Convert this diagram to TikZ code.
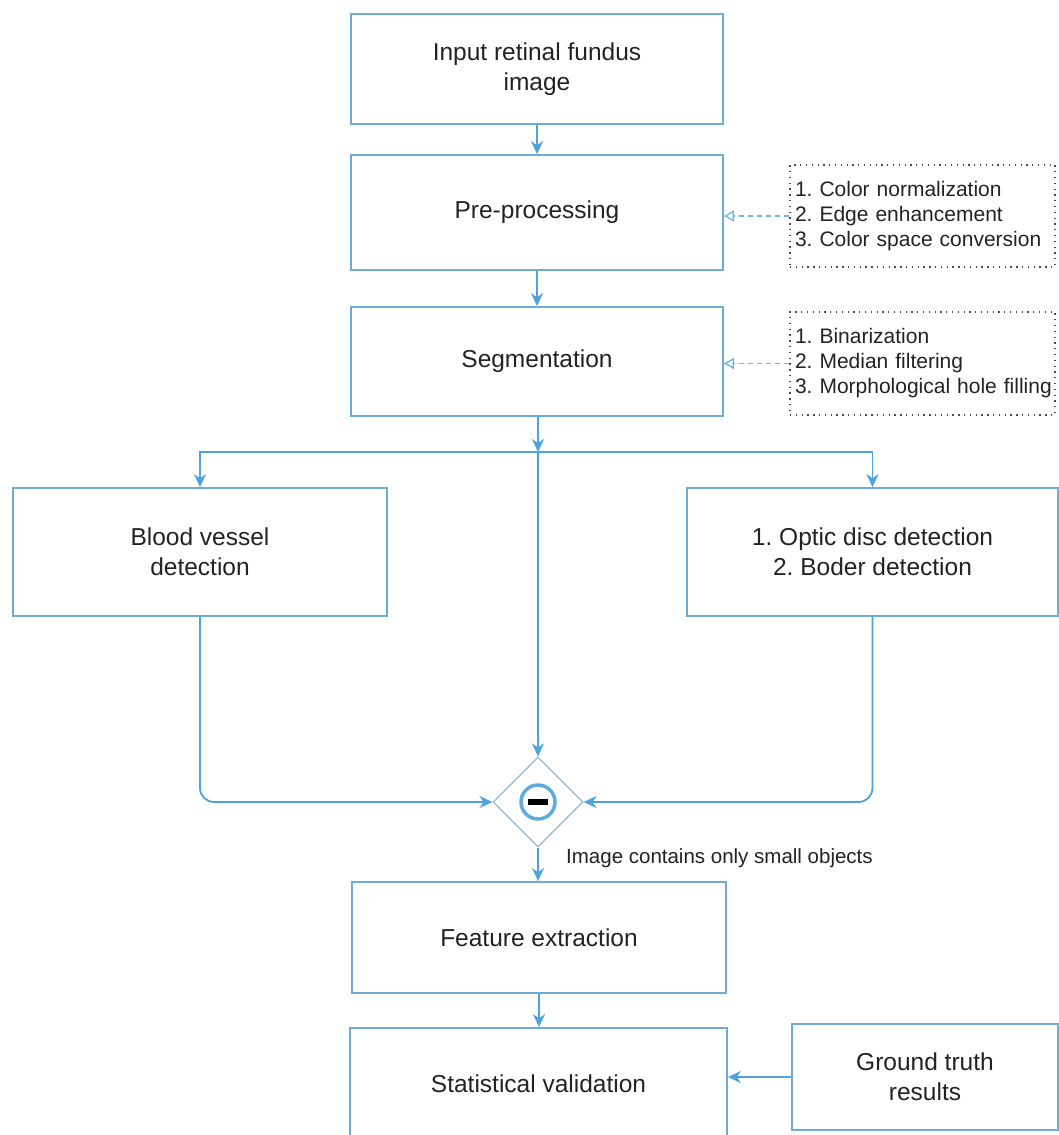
\documentclass[tikz,border=0pt]{standalone}
\usepackage{fontspec}
\setmainfont{Liberation Sans}
\usetikzlibrary{shapes.geometric,arrows.meta}
\definecolor{boxc}{RGB}{110,172,214}
\definecolor{arrc}{RGB}{78,163,222}
\definecolor{dmc}{RGB}{150,188,205}
\definecolor{txt}{RGB}{35,35,35}
\frenchspacing
\begin{document}
\begin{tikzpicture}[x=1pt,y=-1pt,
  mainbox/.style={draw=boxc,line width=1.8pt,minimum width=#1,inner sep=0pt,align=center,
    font=\fontsize{24.5}{30}\selectfont,text=txt},
  sidebox/.style={draw=black!70,line width=1.3pt,dash pattern=on 1.3pt off 4.5pt,text width=255pt,inner sep=5pt,
    align=left,font=\fontsize{21}{25}\selectfont,text=txt,minimum height=102pt},
  arr/.style={draw=arrc,line width=1.8pt,-{Stealth[length=13pt,width=12pt]}},
  darr/.style={draw=arrc!80,line width=1.3pt,dash pattern=on 5pt off 4pt,
    -{Triangle[open,length=10pt,width=11pt]}},
  ln/.style={draw=arrc,line width=1.8pt}]
\fill[white] (0,0) rectangle (1059,1135);
\useasboundingbox (0,0) rectangle (1059,1135);

\node[mainbox=372pt,minimum height=110pt] (in) at (537,69) {Input retinal fundus\\image};
\node[mainbox=372pt,minimum height=115pt] (pre) at (537,212.5) {Pre-processing};
\node[mainbox=372pt,minimum height=109pt] (seg) at (537,361.5) {Segmentation};
\node[mainbox=374pt,minimum height=128pt] (blood) at (200,552) {Blood vessel\\detection};
\node[mainbox=371pt,minimum height=128pt] (optic) at (872.5,552) {1. Optic disc detection\\2. Boder detection};
\node[draw=dmc,line width=1.2pt,diamond,minimum width=90pt,minimum height=90pt,inner sep=0pt] (mer) at (538,802) {};
\node[mainbox=374pt,minimum height=111pt] (feat) at (539,937.5) {Feature extraction};
\node[mainbox=377pt,minimum height=112pt] (stat) at (538.5,1084) {Statistical validation};
\node[mainbox=266pt,minimum height=106pt] (gt) at (925,1077) {Ground truth\\results};

\node[sidebox] (s1) at (922.5,216) {1. Color normalization\\2. Edge enhancement\\3. Color space conversion};
\node[sidebox,minimum height=103pt] (s2) at (922.5,363.5) {1. Binarization\\2. Median filtering\\\mbox{3. Morphological hole filling}};

\node[anchor=west,font=\fontsize{20.5}{24}\selectfont,text=txt,inner sep=0pt] (lab) at (566,858) {Image contains only small objects};

% merge symbol
\draw[draw=arrc!90,line width=3.5pt] (mer.center) circle (17pt);
\fill[black] ([xshift=-10pt,yshift=-3pt]mer.center) rectangle ([xshift=10pt,yshift=3pt]mer.center);

\coordinate (j) at (mer.north |- 0,452);

\draw[arr] (seg.south -| j) -- (j);
\draw[arr] (in) -- (pre);
\draw[arr] (pre) -- (seg);
\draw[arr] (j) -- (mer.north);
\draw[arr] (j) -| (blood.north);
\draw[arr] (j) -| (optic.north);
\draw[arr,rounded corners=14pt] (blood.south) |- (mer.west);
\draw[arr,rounded corners=14pt] (optic.south) |- (mer.east);
\draw[arr] (mer.south) -- (feat.north -| mer.south);
\draw[arr] (feat) -- (stat.north -| feat.south);
\draw[arr] (gt.west) -- (gt.west -| stat.east);
\draw[darr] (s1.west) -- (s1.west -| pre.east);
\draw[darr] (s2.west) -- (s2.west -| seg.east);
\end{tikzpicture}
\end{document}
